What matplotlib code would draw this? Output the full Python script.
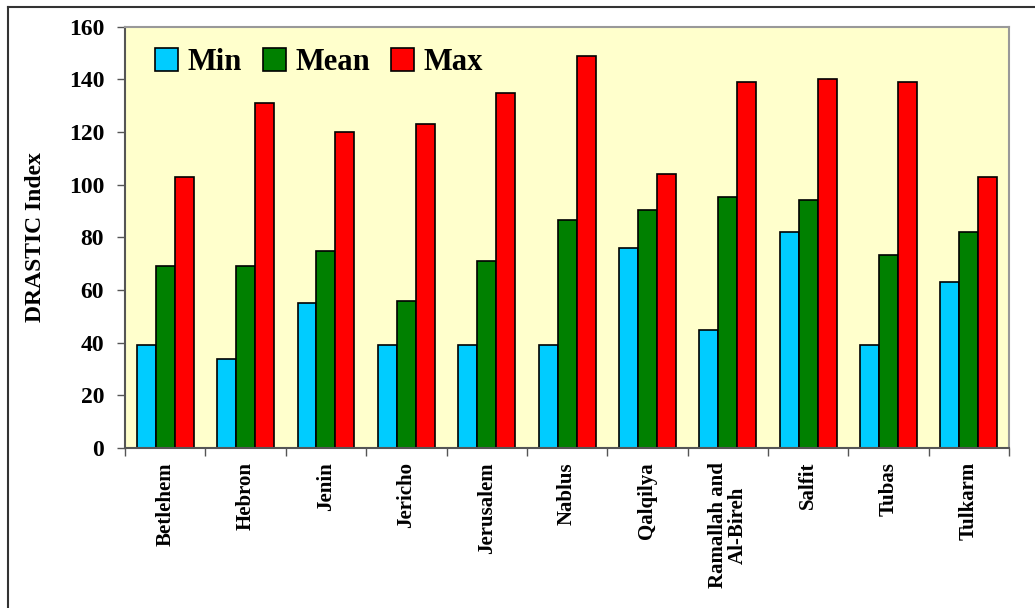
import matplotlib.pyplot as plt
import numpy as np
from matplotlib.lines import Line2D

# DRASTIC index per governorate
distritos = ["Betlehem", "Hebron", "Jenin", "Jericho", "Jerusalem", "Nablus",
             "Qalqilya", "Ramallah and\nAl-Bireh", "Salfit", "Tubas", "Tulkarm"]
minimo = [39, 34, 55, 39, 39, 39, 76, 45, 82, 39, 63]
media = [69, 69, 75, 56, 71, 86.5, 90.3, 95.5, 94.2, 73.5, 82]
maximo = [103, 131, 120, 123, 135, 149, 104, 139, 140, 139, 103]

plt.rcParams['font.family'] = ['Liberation Serif', 'DejaVu Serif']
plt.rcParams['font.weight'] = 'bold'

fig = plt.figure(figsize=(10.35, 6.08), dpi=100)
ax = fig.add_axes([0.1208, 0.263, 0.8542, 0.693])
ax.set_facecolor('#FFFFCC')

x = np.arange(len(distritos))
w = 0.236
ax.bar(x - w, minimo, w, color='#00CCFF', edgecolor='black', linewidth=1.2, label='Min')
ax.bar(x, media, w, color='#008000', edgecolor='black', linewidth=1.2, label='Mean')
ax.bar(x + w, maximo, w, color='#FF0000', edgecolor='black', linewidth=1.2, label='Max')

ax.set_xlim(-0.5, len(distritos) - 0.5)
ax.set_ylim(0, 160)
ax.set_yticks(range(0, 161, 20))
ax.tick_params(axis='y', labelsize=17, length=6, width=1, color='#555555', pad=9)

# category ticks sit between groups, labels centred on groups
ax.set_xticks(np.arange(-0.5, len(distritos)), minor=False)
ax.set_xticklabels([])
ax.set_xticks(x, minor=True)
ax.set_xticklabels(distritos, minor=True, rotation=90, fontsize=15,
                   fontweight='bold', va='top', ha='center', linespacing=1.0)
ax.tick_params(axis='x', which='major', length=6, width=1, color='#555555')
ax.tick_params(axis='x', which='minor', length=0, pad=10)
for lab in ax.get_yticklabels():
    lab.set_fontweight('bold')

ax.set_ylabel('DRASTIC Index', fontsize=17, fontweight='bold', labelpad=16)

for lado in ['left', 'bottom']:
    ax.spines[lado].set_color('#555555')
    ax.spines[lado].set_linewidth(1.5)
for lado in ['top', 'right']:
    ax.spines[lado].set_color('#999999')
    ax.spines[lado].set_linewidth(1.5)

ax.legend(loc='upper left', ncol=3, frameon=False,
          prop={'weight': 'bold', 'size': 22}, handlelength=0.75, handleheight=0.75,
          handletextpad=0.3, columnspacing=0.7, borderaxespad=0.3,
          bbox_to_anchor=(0.01, 1.0))

# border lines along left and top of the figure
fig.add_artist(Line2D([0.0077, 0.0077], [0, 0.9885], transform=fig.transFigure,
                      color='#333333', linewidth=1.5))
fig.add_artist(Line2D([0.0077, 1.0], [0.9885, 0.9885], transform=fig.transFigure,
                      color='#333333', linewidth=1.5))

fig.savefig('out.png', dpi=100)
